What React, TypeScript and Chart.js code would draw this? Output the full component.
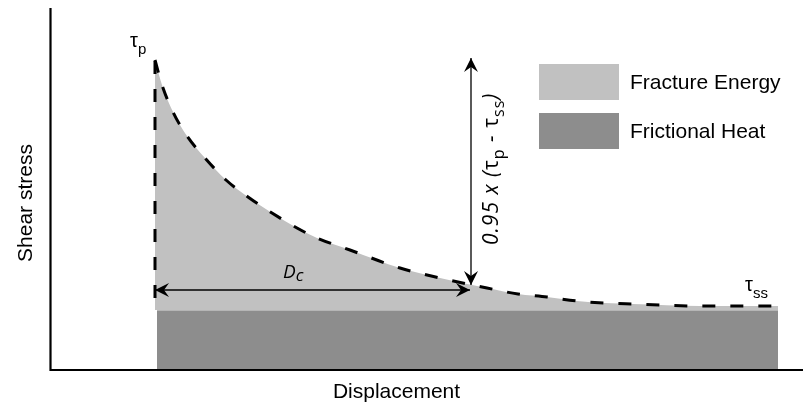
import React, { useEffect, useRef } from "react";
import { Chart, registerables } from "chart.js";

Chart.register(...registerables);

// Slip-weakening curve (displacement, shear stress) in arbitrary units
const displacement = [105, 112, 123, 137, 155, 176, 198, 222, 247, 267, 300, 350, 390, 437, 468, 497, 527, 555, 583, 650, 728];
const shearStress = [310, 285, 258, 234, 212, 190, 173, 157, 142, 132, 120, 102, 92, 82, 76, 73, 69, 67, 66, 64, 64];

// Peak stress vertical (dashed)
const peakLineX = [105, 105];
const peakLineY = [72, 310];

// Frictional heat block (level of residual friction)
const frictionX = [107, 728];
const frictionY = [60, 60];

// Axes ranges
const xRange = [0, 753];
const yRange = [0, 362];

// Annotation arrows (data units)
const dcArrowX = [105, 420];
const dcArrowY = [80, 80];
const dropArrowX = [421, 421];
const dropArrowY = [85, 312];

// Annotation anchors (data units)
const tauPAnchor = [80, 323];
const tauSSAnchor = [695, 79];
const dcAnchor = [233, 92];
const dropLabelAnchor = [448, 125];

const legendLabels = ["Fracture Energy", "Frictional Heat"];
const legendColors = ["#c1c1c1", "#8d8d8d"];
const xTitle = "Displacement";
const yTitle = "Shear stress";

type Part = [string, boolean, string?];

function drawRich(ctx: CanvasRenderingContext2D, parts: Part[], x: number, y: number, size: number, subSize: number, subDrop: number, font: string, style: string) {
  let cx = x;
  for (const [t, sub, st] of parts) {
    ctx.font = `${st ?? style} ${sub ? subSize : size}px ${font}`;
    ctx.fillText(t, cx, sub ? y + subDrop : y);
    cx += ctx.measureText(t).width;
  }
}

function arrowHead(ctx: CanvasRenderingContext2D, tx: number, ty: number, angle: number) {
  const L = 14, W = 7, N = 9;
  const dx = Math.cos(angle), dy = Math.sin(angle);
  const px = -dy, py = dx;
  ctx.beginPath();
  ctx.moveTo(tx, ty);
  ctx.lineTo(tx - L * dx + W * px, ty - L * dy + W * py);
  ctx.lineTo(tx - N * dx, ty - N * dy);
  ctx.lineTo(tx - L * dx - W * px, ty - L * dy - W * py);
  ctx.closePath();
  ctx.fill();
}

function doubleArrow(ctx: CanvasRenderingContext2D, x0: number, y0: number, x1: number, y1: number) {
  const a = Math.atan2(y1 - y0, x1 - x0);
  ctx.lineWidth = 1.3;
  ctx.beginPath();
  ctx.moveTo(x0, y0);
  ctx.lineTo(x1, y1);
  ctx.stroke();
  arrowHead(ctx, x1, y1, a);
  arrowHead(ctx, x0, y0, a + Math.PI);
}

const annotationPlugin = {
  id: "annotations",
  afterDatasetsDraw(chart: any) {
    const ctx: CanvasRenderingContext2D = chart.ctx;
    const xs = chart.scales.x;
    const ys = chart.scales.y;
    const { left, right, top, bottom } = chart.chartArea;
    const X = (v: number) => xs.getPixelForValue(v);
    const Y = (v: number) => ys.getPixelForValue(v);
    ctx.save();
    ctx.fillStyle = "#000";
    ctx.strokeStyle = "#000";

    // axes lines
    ctx.lineWidth = 2.2;
    ctx.beginPath();
    ctx.moveTo(left + 0.5, top);
    ctx.lineTo(left + 0.5, bottom);
    ctx.lineTo(right, bottom);
    ctx.stroke();

    // arrows
    doubleArrow(ctx, X(dcArrowX[0]), Y(dcArrowY[0]), X(dcArrowX[1]), Y(dcArrowY[1]));
    doubleArrow(ctx, X(dropArrowX[0]), Y(dropArrowY[0]), X(dropArrowX[1]), Y(dropArrowY[1]));

    ctx.textAlign = "left";
    ctx.textBaseline = "alphabetic";
    const sans = "'Liberation Sans', Arial, sans-serif";
    // tau_p
    drawRich(ctx, [["τ", false], ["p", true]], X(tauPAnchor[0]), Y(tauPAnchor[1]), 20, 15, 7, sans, "normal");
    // tau_ss
    drawRich(ctx, [["τ", false], ["ss", true]], X(tauSSAnchor[0]), Y(tauSSAnchor[1]), 20, 15, 7, sans, "normal");
    // D_c
    drawRich(ctx, [["D", false], ["c", true]], X(dcAnchor[0]), Y(dcAnchor[1]), 19, 17, 3, "'Open Sans', sans-serif", "italic");

    // rotated drop label
    ctx.save();
    ctx.translate(X(dropLabelAnchor[0]), Y(dropLabelAnchor[1]));
    ctx.rotate(-Math.PI / 2);
    (ctx as any).letterSpacing = "1px";
    drawRich(
      ctx,
      [["0.95 x (", false], ["τ", false, "normal"], ["p", true, "normal"], [" - ", false], ["τ", false, "normal"], ["ss", true, "normal"], [")", false]],
      0, 0, 21, 16, 6, "'Open Sans', sans-serif", "italic"
    );
    ctx.restore();

    // axis titles
    ctx.font = `21px ${sans}`;
    ctx.textAlign = "center";
    ctx.fillText(xTitle, (left + right) / 2 - 30, bottom + 28);
    ctx.save();
    ctx.translate(left - 18, (top + bottom) / 2 + 14);
    ctx.rotate(-Math.PI / 2);
    ctx.fillText(yTitle, 0, 0);
    ctx.restore();

    // legend
    ctx.textAlign = "left";
    ctx.font = `21px ${sans}`;
    legendLabels.forEach((lab, i) => {
      const by = 64 + i * 49;
      ctx.fillStyle = legendColors[i];
      ctx.fillRect(539, by, 80, 36);
      ctx.fillStyle = "#000";
      ctx.fillText(lab, 630, by + 25);
    });
    ctx.restore();
  },
};

export default function App() {
  const ref = useRef<HTMLCanvasElement | null>(null);
  useEffect(() => {
    if (!ref.current) return;
    const curve = displacement.map((x, i) => ({ x, y: shearStress[i] }));
    const peak = peakLineX.map((x, i) => ({ x, y: peakLineY[i] }));
    const friction = frictionX.map((x, i) => ({ x, y: frictionY[i] }));
    const chart = new Chart(ref.current, {
      type: "line",
      data: {
        datasets: [
          {
            label: "curve",
            data: curve,
            borderColor: "#000",
            borderWidth: 3,
            borderDash: [13, 15],
            pointRadius: 0,
            cubicInterpolationMode: "monotone",
            fill: false,
            order: 0,
          },
          {
            label: "peak",
            data: peak,
            borderColor: "#000",
            borderWidth: 3,
            borderDash: [13, 15],
            pointRadius: 0,
            fill: false,
            order: 1,
          },
          {
            label: legendLabels[0],
            data: curve,
            borderWidth: 0,
            borderColor: "rgba(0,0,0,0)",
            backgroundColor: legendColors[0],
            pointRadius: 0,
            cubicInterpolationMode: "monotone",
            fill: { value: frictionY[0] },
            order: 2,
          },
          {
            label: legendLabels[1],
            data: friction,
            borderWidth: 1,
            borderColor: "#dedede",
            backgroundColor: legendColors[1],
            pointRadius: 0,
            fill: "origin",
            order: 3,
          },
        ],
      },
      options: {
        animation: false,
        responsive: false,
        events: [],
        layout: { padding: { left: 50, top: 8, right: 0, bottom: 37 } },
        scales: {
          x: { type: "linear", min: xRange[0], max: xRange[1], display: false },
          y: { type: "linear", min: yRange[0], max: yRange[1], display: false },
        },
        plugins: { legend: { display: false }, tooltip: { enabled: false } },
      },
      plugins: [annotationPlugin],
    } as any);
    return () => chart.destroy();
  }, []);
  return (
    <div style={{ position: "absolute", left: 0, top: 0, width: 803, height: 407, background: "#fff" }}>
      <canvas ref={ref} width={803} height={407} style={{ display: "block" }} />
    </div>
  );
}
